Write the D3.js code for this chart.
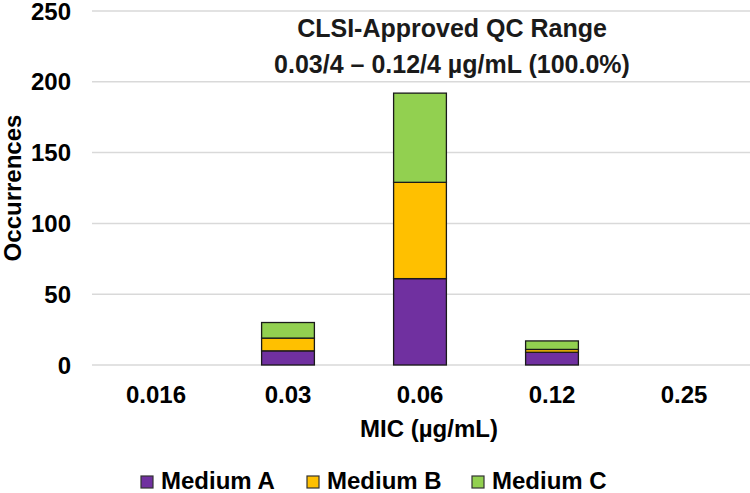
<!DOCTYPE html>
<html><head><meta charset="utf-8">
<script src="https://cdn.jsdelivr.net/npm/d3@7"></script>
<style>body{margin:0;background:#fff}svg{display:block;font-family:"Liberation Sans",Arial,sans-serif}</style>
</head><body>
<svg id="c" width="750" height="493"></svg>
<script>
const categories = ["0.016", "0.03", "0.06", "0.12", "0.25"];
const seriesNames = ["Medium A", "Medium B", "Medium C"];
const mediumA = [0, 10, 61, 9, 0];
const mediumB = [0, 9, 68, 2, 0];
const mediumC = [0, 11, 63, 6, 0];
const yTicks = [0, 50, 100, 150, 200, 250];
const colors = ["#7030A0", "#FFC000", "#92D050"];
const titleLines = ["CLSI-Approved QC Range", "0.03/4 \u2013 0.12/4 \u00b5g/mL (100.0%)"];

const svg = d3.select("#c");
const x = d3.scaleBand().domain(categories).range([90, 750]).paddingInner(0.6).paddingOuter(0.3);
const y = d3.scaleLinear().domain([0, 250]).range([365, 11]);

// gridlines
svg.append("g").selectAll("line").data(yTicks).join("line")
  .attr("x1", 92).attr("x2", 750)
  .attr("y1", d => y(d)).attr("y2", d => y(d))
  .attr("stroke", "#d9d9d9").attr("stroke-width", 1.5);

// y tick labels
svg.append("g").selectAll("text").data(yTicks).join("text")
  .attr("x", 71).attr("y", d => y(d)).attr("dy", "0.36em")
  .attr("text-anchor", "end").attr("font-size", 24).attr("font-weight", "bold").attr("fill", "#000")
  .text(d => d);

// stacked bars
const rows = categories.map((c, i) => ({cat: c, A: mediumA[i], B: mediumB[i], C: mediumC[i]}));
const stack = d3.stack().keys(["A", "B", "C"])(rows);
svg.append("g").selectAll("g").data(stack).join("g")
  .attr("fill", (d, i) => colors[i])
  .selectAll("rect").data(d => d.filter(s => s[1] - s[0] > 0)).join("rect")
  .attr("x", d => x(d.data.cat)).attr("width", x.bandwidth())
  .attr("y", d => y(d[1])).attr("height", d => y(d[0]) - y(d[1]))
  .attr("stroke", "#1a1a1a").attr("stroke-width", 1.3);

// x tick labels
svg.append("g").selectAll("text").data(categories).join("text")
  .attr("x", d => x(d) + x.bandwidth() / 2).attr("y", 403)
  .attr("text-anchor", "middle").attr("font-size", 24).attr("font-weight", "bold")
  .text(d => d);

// axis titles
svg.append("text").attr("x", 429).attr("y", 437).attr("text-anchor", "middle")
  .attr("font-size", 24).attr("font-weight", "bold").text("MIC (\u00b5g/mL)");
svg.append("text").attr("transform", "translate(21,188) rotate(-90)").attr("text-anchor", "middle")
  .attr("font-size", 24).attr("font-weight", "bold").text("Occurrences");

// title
svg.append("g").selectAll("text").data(titleLines).join("text")
  .attr("x", 452).attr("y", (d, i) => 37 + i * 36).attr("text-anchor", "middle")
  .attr("font-size", 25).attr("font-weight", "bold").attr("fill", "#1a1a1a")
  .text(d => d);

// legend
const legX = [141, 307, 472];
const leg = svg.append("g").selectAll("g").data(seriesNames).join("g")
  .attr("transform", (d, i) => `translate(${legX[i]},0)`);
leg.append("rect").attr("x", 0).attr("y", 476).attr("width", 12).attr("height", 12)
  .attr("fill", (d, i) => colors[i]).attr("stroke", "#333").attr("stroke-width", 1.2);
leg.append("text").attr("x", 20).attr("y", 489).attr("font-size", 24).attr("font-weight", "bold").text(d => d);
</script>
</body></html>
